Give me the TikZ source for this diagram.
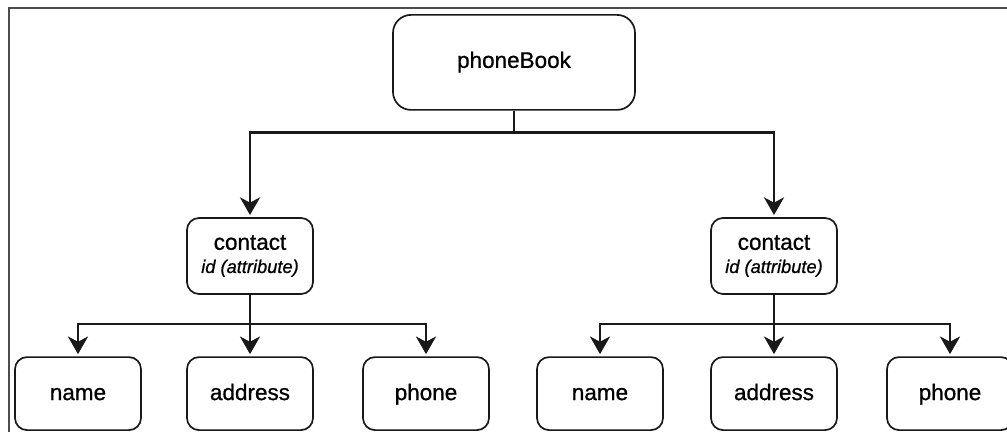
\documentclass[tikz,border=0pt]{standalone}
\usepackage{fontspec}
\setmainfont{Liberation Sans}[FakeBold=0.8]
\usetikzlibrary{arrows.meta, calc}
\tikzstyle{root} = [rectangle, rounded corners=0.45cm, minimum width=6.05cm, minimum height=2.375cm, text centered, text height=11.5pt, text depth=3.7pt, draw=black!90, line width=1.2pt, font=\fontsize{16}{19}\selectfont]
\tikzstyle{contact} = [rectangle, rounded corners=0.3cm, minimum width=3.15cm, minimum height=1.9cm, align=center, draw=black!90, line width=1.2pt, font=\fontsize{16}{16.5}\selectfont]
\tikzstyle{leaf} = [rectangle, rounded corners=0.3cm, minimum width=3.15cm, minimum height=1.825cm, text centered, text height=11.5pt, text depth=2.3pt, draw=black!90, line width=1.2pt, font=\fontsize{16}{19}\selectfont]
\tikzstyle{arrow} = [line width=1.9pt, draw=black!90, -{Stealth[length=0.44cm, width=0.5cm, inset=0.13cm]}, shorten >=1.5pt]
\newcommand{\attrib}[1]{{\fontsize{13}{16.5}\selectfont\itshape #1}}

\begin{document}
\begin{tikzpicture}[node distance=4.84cm]
        \useasboundingbox (0,0) rectangle (25.175,10.8);
        \draw [black!70, line width=1.1pt] (0.225,0) -- (0.225,10.6) -- (25.175,10.6);

        \node (phonebook) [root] at (12.85,9.24) {phoneBook};
        \node (contact_l) [contact, below of=phonebook, xshift=-6.6cm] {contact\\\attrib{id (attribute)}};
        \node (contact_r) [contact, below of=phonebook, xshift=6.5cm] {contact\\\attrib{id (attribute)}};
        \node (name_l) [leaf, below of=contact_l, node distance=3.44cm, xshift=-4.3cm] {name};
        \node (address_l) [leaf, below of=contact_l, node distance=3.44cm] {address};
        \node (phone_l) [leaf, below of=contact_l, node distance=3.44cm, xshift=4.4cm] {phone};
        \node (name_r) [leaf, below of=contact_r, node distance=3.44cm, xshift=-4.35cm] {name};
        \node (address_r) [leaf, below of=contact_r, node distance=3.44cm] {address};
        \node (phone_r) [leaf, below of=contact_r, node distance=3.44cm, xshift=4.4cm] {phone};
        \coordinate (split) at ($(phonebook.south)+(0,-0.55)$);
        \coordinate (split_l) at ($(contact_l.south)+(0,-0.725)$);
        \coordinate (split_r) at ($(contact_r.south)+(0,-0.725)$);

        \draw [arrow] (phonebook.south) -- (split) -| (contact_l);
        \draw [arrow] (phonebook.south) -- (split) -| (contact_r);
        \draw [arrow] (contact_l.south) -- (split_l) -| (name_l);
        \draw [arrow] (contact_l.south) -- (address_l);
        \draw [arrow] (contact_l.south) -- (split_l) -| (phone_l);
        \draw [arrow] (contact_r.south) -- (split_r) -| (name_r);
        \draw [arrow] (contact_r.south) -- (address_r);
        \draw [arrow] (contact_r.south) -- (split_r) -| (phone_r);
    \end{tikzpicture}
\end{document}
